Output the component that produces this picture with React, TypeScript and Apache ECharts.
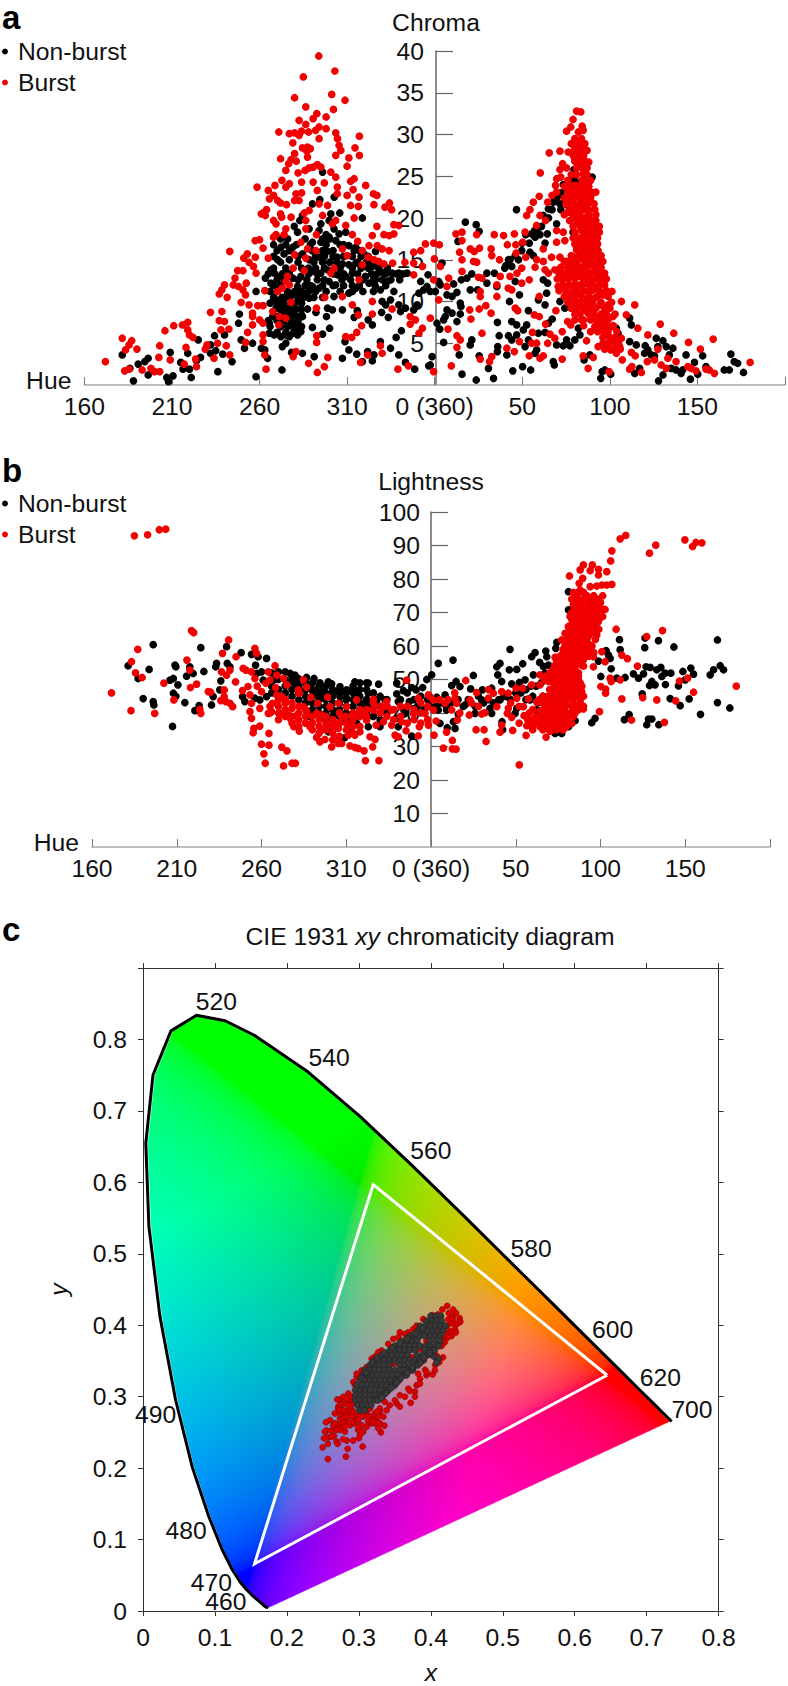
import React, { useEffect, useRef } from "react";
import * as echarts from "echarts";

const FONT = "Liberation Sans";

// Hue offset from 0 (360): negative values are hues 359..160, positive are 1..200
const hueTickValues = [-200, -150, -100, -50, 0, 50, 100, 150, 200];
const hueTickLabels = ["160", "210", "260", "310", "0 (360)", "50", "100", "150", ""];

const chromaBurst: number[][] = [
[-188,2.8],[-178.4,5.6],[-177,1.7],[-174.5,1.9],[-173,5.3],[-174.5,4.8],[-176.5,4.2],[-170,4.3],[-167,1.8],[-162,2],[-160,1.6],[-157,1.6],[-157.5,3.3],[-157,4.7],[-154,6.5],[-151,3],[-149,7.1],[-141,7.5],[-144,7.2],[-141,6.6],[-140,6],[-138,5.7],[-142,4.5],[-143,2.5],[-136,2.2],[-136.5,3.1],[-131,4.3],[-130,4.8],[-126,3.2],[-128,8.7],[-121.5,8.8],[-123,7.7],[-120,7.6],[-122,6.6],[-117.5,6.7],[-124,5],[-119,4.7],[-117,3.6],[-123,10.9],[-120,12],[-121.5,11.4],[-118.5,10.5],[-114,12.8],[-115,12],[-112,11.8],[-109.5,11.4],[-107.6,12.2],[-110.5,9.9],[-108,10.8],[-106,9.6],[-104,8.6],[-112.5,13.7],[-109.5,13.7],[-117,16],[-109,15.2],[-107,15.7],[-102.4,15.3],[-106,14.7],[-103.5,14.2],[-102,13.4],[-102.5,17.3],[-100,17.4],[-98,16.4],[-95,15.2],[-92,17.7],[-90.6,18],[-86,18],[-85,18.7],[-98,20.6],[-96,21],[-99,20.5],[-96.7,20.3],[-92,19.7],[-90.6,19.3],[-88,20.5],[-87.4,20.1],[-82,20.1],[-101.4,23.7],[-95,23.3],[-91.2,23.9],[-87.2,24.5],[-85,23.7],[-83,24.1],[-94.4,22.3],[-92,22.7],[-89.7,22.1],[-88,21.8],[-84.6,21.6],[-79.2,22.9],[-76,23],[-80,22.1],[-77.4,22.1],[-76,24.3],[-69.4,24.3],[-67,23.3],[-63,24.2],[-78,25.4],[-85,25.7],[-83.4,26.5],[-82,27],[-80,27.7],[-79,26.8],[-88,27.1],[-81,29],[-74,25.7],[-71.7,26],[-69.4,26.1],[-67,26.4],[-65,26.1],[-75.5,28.4],[-72.6,28.5],[-73,28],[-71,28.3],[-72.6,27.3],[-89,30.3],[-83,30.1],[-80,30.2],[-77.4,29.9],[-76,30.4],[-72,30.3],[-68,30.5],[-66,30.9],[-62,30.7],[-66,29.5],[-56.5,30.2],[-55.5,29.5],[-54.6,28.7],[-53.6,28.1],[-56.5,27.5],[-43,29.8],[-45.5,28.4],[-43,27.5],[-49,27.2],[-50,26.2],[-77.4,31.7],[-73.6,31.2],[-69.4,31.9],[-67.3,32.5],[-62,32.1],[-80,34.4],[-73.6,33.3],[-58.8,34.8],[-57.8,33],[-51.2,34.1],[-75,36.9],[-57,37.6],[-66.2,39.4],
[-59.3,25.5],[-56.5,24.9],[-55.6,23.7],[-55.6,22.9],[-46,24.7],[-48,24.4],[-46.6,23.4],[-39.4,23.9],[-50,22.7],[-43.2,22.5],[-48,21.5],[-43.6,21.4],[-46,20],[-35,22.9],[-33,22.7],[-34.7,21.6],[-28.4,21.3],[-25.8,21.8],[-24.6,21],[-33,19],[-23.3,19.2],[-20.5,19.1],[-35.6,17.9],[-29,18],[-26,17.9],[-23.3,18.1],[-32.8,16.7],[-30,16.3],[-26,16.1],[-37.5,16.7],[-38,15.3],[-34.7,15],[-32,14.8],[-29,14.5],[-24,14.6],[-17,14.7],[-12,14.6],[-5.3,16.9],[-8,16.1],[-12,15.9],[-7,14.2],[-12,13.2],[-47,18],[-44,17.2],[-52.7,16.3],[-49.9,15.5],[-41.3,16.1],[-41.3,14.4],[-50.8,19.1],[-56.5,19.7],[-58.4,19.3],[-61.2,21.5],[-66,21.7],[-71.7,20.9],[-74.5,20.6],[-73.6,19.7],[-64,20.3],[-73.6,18.7],[-76.4,17.1],[-67.5,18],[-72.6,16.3],[-67.8,16.1],[-80,15.6],[-73.6,15.2],[-57.5,14],[-59.3,13.4],[-74.5,13.7],[-80.8,14],[-84,13],[-85,12.4],[-87,11.6],[-89.7,11.2],[-83,12],[-97,11.3],[-43.2,12.6],[-62.8,10.5],[-52.7,10.6],[-35.6,10],[-35.6,8.5],[-47,9.6],[-67.5,9.2],[-43.6,8.4],[-24.3,9.1],[-14,8.2],[-11,7.8],[-14,7.3],[-7,6.8],[-9,6.2],[-82,9.9],[-98,9.5],[-101,9.5],[-92.5,8.8],[-104,8.2],[-100,7.8],[-98,7.4],[-104,7.2],[-88.7,8.2],[-85,8],[-89,7.2],[-106.8,6.3],[-98,6],[-108,5.1],[-97,3.6],[-98,5.2],[-67.4,5.9],[-67.4,5.1],[-50.8,5.8],[-47.4,5.7],[-44.5,6.3],[-41.7,7.1],[-31,4.7],[-30,3.8],[-38.3,3.6],[-42.3,2.7],[-79.2,4],[-80.8,3.4],[-72,2.6],[-61,3.3],[-63,2.2],[-67,1.5],[-96.3,1.9],[-21,1.9],[-15,2.3],
[-0.6,17],[2.7,16.8],[-0.2,15.1],[3.2,14.2],[12.1,18.1],[15.6,18.3],[15.6,17.3],[24,18],[14.2,15.9],[20.3,16.3],[25.6,16.4],[22.6,16],[15.6,15],[22.2,14.8],[24,14.7],[15.6,13.6],[25,12.9],[27,12.8],[34,18],[39.3,17.9],[45.5,18.1],[51.6,18.3],[41.5,16.8],[46.3,16.8],[32.2,16.3],[32.6,15.5],[37,15],[46.5,15.8],[50.3,17.1],[52,15.3],[-0.6,12.6],[8,12.8],[7,11.8],[2.3,10.2],[26,11.2],[26,10.6],[35.5,12],[35.5,10.6],[42,11.6],[44,11.4],[49.7,12.2],[37.4,13],[43,13],[47,13.4],[49.7,14],[54,12.6],[20,9],[25.4,9.1],[29.2,9.5],[32.2,8.6],[20.7,7.9],[46,9.2],[47.4,8.9],[-2.5,8],[7.6,6.7],[12.7,5.9],[14.6,5.4],[27,6.2],[12.7,4.5],[26,3.1],[32.6,3.4],[31.3,2.8],[9.5,2.3],[-0.6,1.6],[41.2,4.4],[45.5,4],[48.4,5.2],[54,3.5],[60.1,3.2],[62,3.5],[55.8,6.3],[56.9,8.4],[59.7,8.2],[63.3,7.3],[59.7,10.6],[69.2,8.9],[72.8,6.4],[65.8,6.1],[68.6,5.6],[64.5,5],[55.4,5],[58.2,5],[75.9,7.6],[77.7,7.2],[86.7,5.3],
[52.5,20.3],[54.4,21],[56.3,21.9],[59.7,22.6],[64.5,21.9],[60.1,20.3],[63.3,19.7],[58.2,19.1],[69.6,18.5],[73.4,18.3],[69.6,17.1],[74.3,17.3],[62,16.3],[66.7,15.3],[71.5,15.3],[75.3,14.8],[62,14.8],[58.2,15],[57.3,14.1],[63,13.8],[68.6,13.8],[72.4,13],[70.5,11.8],[64.9,13.4],[76.2,10.2],
[81,32.8],[83.4,32.7],[79,31.8],[84.2,31],[77.7,30.9],[75.3,30.4],[84.8,30.5],[82,30.3],[80,29.5],[83.8,29.5],[78,28.9],[81,28.7],[85.7,28.9],[87,28.1],[83,28.1],[79,27.9],[76.2,27.9],[71.5,28],[65.4,27.8],[80,27.1],[84.8,27.1],[82,26.5],[88,26.7],[85.7,26.1],[73,26.5],[71.5,25.8],[75.3,26],[60.3,25.4],[84.8,25.3],[69.6,24.7],[72,24.9],[69,23.9],[69.6,23.1],[67,22.7],[76.2,23.3],[80,23.9],[87.2,24.2],[90.5,23],[83.8,23.5],[80,22.5],[84.8,22.5],[87.6,22.3],[77.2,21.9],[82,21.7],[89.5,21.9],[79,21],[83.8,21],[91.4,21],[76.2,20.7],[81,20.1],[86.7,20.1],[89.5,19.7],[82,19.3],[85.7,19.3],[92.3,18.5],[89.5,18.5],[83.8,18.5],[81,17.7],[86.7,17.7],[91.4,17.5],[84.8,17],[81,16.6],[93.3,16.1],[87.6,16.3],[82.9,15.7],[91.4,15.3],[94.2,15],[80,15.3],[84.8,15],[89.5,14.5],[92.3,14],[82,14.2],[86.7,13.4],[94.2,13.4],[79,13],[82.9,13],[89.5,12.6],[95.2,12.4],[85.7,12.2],[80,12],[92.3,11.6],[74.3,11.8],[87.6,11.2],[82.9,11],[78.1,10.8],[96.1,10.8],[91.4,10.4],[85.7,10.2],[99,9.6],[94.2,9.6],[89.5,9.2],[83.8,9.4],[81,8.6],[86.7,8.8],[83.8,7.8],[97,8.4],[101.8,8.2],[93.3,8],[96.1,7.4],[91.4,7],[95.2,6.6],[100.9,7],[97.1,6],[100,5.2],[98,4.6],[102.8,5],[105.6,4.6],[100.5,4.2],[103.7,3.8],[106.6,5.6],[93.3,4.6],
[101.2,11.2],[106.6,10],[114.2,9.6],[109.4,8.4],[116,6.8],[128.8,7.3],[136.5,6.2],[121.7,6],[144.9,5.1],[159,5.5],[151.7,4.3],[127.4,4.3],[112.3,3.9],[114.5,3.5],[107.1,3],[112.6,2.2],[111.3,1.9],[118,1.5],[125.5,3],[121.4,2.8],[133.1,3.2],[129.3,2.4],[137.8,2.8],[132.2,2],[146.4,2],[149.2,1.7],[144.5,2.2],[154.9,1.9],[156.8,1.8],[159.7,1.4],[180.1,2.7],[99.6,1.6],[87.6,2],[90.5,3.3],[84.8,3.5],[72.8,3.1]
];
// Dense part of the right-hand burst peak, row by row: chroma, then hues
const chromaBurstRows: number[][] = [
[29,81,84],[28.3,80,83,85],[27.5,79,82,85],[26.8,80,83,86],[26,81,84,87],[25.2,78,81,87],[24.5,76,84,86,89],[23.8,74,78,82,85,88],[23.1,76,79,82,86,89,92],[22.4,74,77,83,86,89],[21.7,75,79,85,87,91],[21,77,81,86,88],[20.4,74,79,83,88,92],[19.7,77,81,84,87,92],[19,79,83,86,89,91,94],[18.3,80,85,88,91,94],[17.6,79,83,84,89,93],[16.9,80,83,87,90,93],[16.2,81,85,89,92],[15.5,78,83,87,90,95],[14.8,74,77,81,86,88,93,96],[14.1,72,76,79,84,87,91,95],[13.4,71,74,77,81,84,89,92,97],[12.7,70,73,76,80,85,87,92,95,98],[12,73,77,83,88,90,94,97],[11.3,71,75,79,81,85,90,94,98],[10.6,74,77,80,84,88,93,99],[9.9,76,80,82,87,90,95,101],[9.2,78,81,85,88,92,97,100],[8.5,80,83,88,91,95,98,103],[7.8,80,85,89,92,95,99],[7.1,85,93,98,102],[6.4,89,93,99,104],[5.7,96,100,103],[5,96,99,105],[4.3,97,102,104,106]
];

const chromaNonBurst: number[][] = [
[-172,0.5],[-178.4,3.6],[-174,2],[-169.3,2.5],[-165.5,2.8],[-163.6,3.2],[-163.6,1.2],[-153,0.9],[-149.4,1.1],[-152,0.4],[-151,3.9],[-145,2.7],[-143.7,1.9],[-140,1.9],[-139,0.9],[-141,3.8],[-136,2.9],[-133.7,3.3],[-123.8,1.6],[-121,3.7],[-115.7,2.8],[-125,4.1],[-128,3.8],[-128,4.8],[-125.7,5.9],[-120,6],[-135,5.4],[-102,1],[-110.5,5.4],[-108.6,4.4],[-104,5],[-99,4.4],[-97,4.2],[-95.4,3.2],[-87.2,1.8],[-111.5,8.5],[-112,7.4],[-102,11.2],[-96.7,12.8],[-93.5,13.8],[-91.6,13.4],[-89.7,15],[-87.8,16.5],[-85,16.8],[-81,16.5],[-86,15.7],[-83,15],[-94.4,6.2],[-91.6,6],[-87.8,5.8],[-85,6],[-81,6.2],[-78.3,6],[-76.4,6.4],[-77.4,7],[-79.2,7.4],[-83,5.8],[-85,5],[-87,4.6],[-94.4,7.4],[-92.5,8.2],[-90.6,9.2],[-87.8,9.4],[-86,8.8],[-83,9.2],[-81,8.6],[-78.3,8.2],[-75.5,8.2],[-91.6,10.2],[-88.7,10.2],[-85,10.6],[-81,10.8],[-77.4,11],[-73.6,10.6],[-71.7,10.4],[-75.5,3.8],[-81.7,3.9],[-68.8,3.4],[-69.8,6.9],[-64,6.1],[-60,6.8],[-52.7,3.2],[-51.2,5.2],[-49,4.2],[-44.5,3.7],[-41.3,2.8],[-38.3,4],[-34.7,3.6],[-35.6,2.9],[-31,5.2],[-25.2,4.4],[-20.5,3.6],[-22,5.7],[-19,6.5],[-16.7,2.7],[-11.4,1.9],[-3.4,2.3],[-72.6,9.1],[-67.8,8.7],[-61.2,9.2],[-61.8,8.2],[-58.4,9],[-52.7,9],[-46,8.1],[-44.2,8.9],[-38,7.8],[-35.6,7.2],[-30.3,8.7],[-26.5,8.1],[-30,10],[-28,9.6],[-25.2,10.2],[-19.5,8.8],[-20.5,9.6],[-16.7,9.2],[-12,9],[-10,9.6],[-9,11],[-6.3,11.4],[-4.4,11.8],
[-75.5,20.3],[-77,19.7],[-80.2,19],[-78.3,18.3],[-69.8,21.7],[-65.6,22.2],[-57.4,22.5],[-64,25.5],[-59.3,20.5],[-54.2,20.6],[-65,19.3],[-60.3,19.7],[-41.3,20],[-71.7,18.7],[-66,18.5],[-62,18],[-57.5,18.7],[-54.6,18.1],[-50.8,18.3],[-69.8,17.1],[-65,17.1],[-60.3,17.7],[-56.5,17.3],[-49,16.7],[-45.1,16.5],[-40.4,15.7],[-33.8,16],[-75.5,15.7],[-71.7,15],[-66,15.3],[-61.2,16],[-55.6,15.3],[-52.7,14.5],[-49,14.4],[-45,14.6],[-35.6,14.2],[-30,13.5],[-24.3,13.4],[-20.5,13.4],[-15.7,13.4],[-8,12.4],[-3.8,13.2],[-69.8,13.6],[-65,13.4],[-61.2,13.8],[-55.6,13.2],[-50.8,13],[-47,13.4],[-39.5,13],[-33.8,12.6],[-31,11.4],[-27,12.4],[-23.3,11.2],[-76.4,13],[-81,12.8],[-89.7,13],[-93.5,12.2],[-78.3,11.8],[-69.8,11.8],[-66,11.6],[-60.3,12.4],[-56.5,12],[-49,11],[-45,11.6],[-37.5,12.2],[-57.5,10.6],[-77.4,10.2],
[17.5,19.5],[23.7,19.2],[25.4,18.4],[13.3,17.2],[46.7,21],[4.2,14.6],[21.2,13.3],[18.4,12.8],[15.2,12.6],[29.8,13.4],[34.1,13.4],[29.8,12.2],[35.5,11.8],[20.3,11.4],[24.5,11.4],[10.8,12.1],[12.7,11.1],[-2.5,11.2],[0.4,11.2],[3.2,12],[7,10.8],[9.9,10.6],[2.3,12.4],[14.6,9.8],[15,9.4],[7,9],[9.9,8.6],[14.6,8.5],[6,8.2],[5.1,7.8],[12.7,7.6],[1.3,7.4],[2.9,6.7],[35.8,7.5],[42.7,10],[48.4,10.8],[5.1,5.1],[21.2,5.4],[20.3,4.8],[36.8,5.9],[36,4.6],[35.8,4],[41.2,3.6],[42.1,5.9],[14,3.6],[-1.5,3.4],[-2.5,2.4],[25.4,3.5],[15.6,1.3],[23.7,0.6],[30.7,2],[33.6,0.8],[44.6,1.7],[50.2,2.2],[54.8,1.8],[67.7,2.8],[68.3,2.4],[53.5,8.9],[44,7.6],[46.8,7.2],[52.5,7.2],[50.6,6.6],[46.8,6],[44,5.4],[53.5,5.4],[59.2,6.2],[63,6.3],[67.1,7.9],[64.9,7.4],[58.2,4.2],[57.3,3.8],[51.6,4.6],[73.4,4.7],[77.2,4.7],[80,5.4],[82.9,6],[82,6.8],[69.6,4.8],[75.3,5.4],[85.3,3],[88.6,3.6],[95.6,1.6],[97.1,1.8],[94.8,0.8],[100.5,1.3],[63.9,11],[59.2,10.2],[63,9.6],[71.5,10],[74.3,9.2],[78.1,9.2],[42.1,15],[40.6,14.3],[44,14.2],[47.8,15],[49.7,16.1],[54.4,15.9],[56.3,15.5],[55.4,18.1],[57.3,17.7],[60.1,18],[63,17],[64.3,18.1],[62,20.3],[64.9,21.1],[67.7,21.9],[71.5,21.7],[74.3,22.1],[73.4,24],[79.5,25.8],[79.5,24.7],[82.9,24.3],[89.9,24.9],[87.6,23.5],[69.6,19.3],[79,18.3],[62,12.6],[46,12.4],[64.5,12.2],
[103.7,6.8],[111.3,8],[112.3,7.2],[104.7,6.2],[111.3,5.2],[115.1,4.8],[120.2,4.7],[121.7,4.2],[119.8,3.8],[126.5,5.6],[130.3,5.3],[127.4,4.6],[132.2,4.6],[136,4.4],[134,3.6],[143.5,3.6],[153,3.5],[169.1,3.7],[148.3,2.7],[135,2],[137.8,1.8],[141.6,1.8],[140.7,1.4],[150.2,1.3],[154.9,2.2],[165.3,1.8],[168.2,1.8],[171,2.8],[173,2.6],[176.3,1.5],[146,0.7],[127.8,0.5],[130.3,1.2],[114.2,1.4],[117,2],[123.6,3.6],[125.5,3.5],
[40,14],[43,15],[46,15.5],[50,17],[52,18],[54,17],[57,18.5],[59,18.8],[61,19],[65,20],[67,21],[70,22.5],[72,23],[75,23.5],[77,24],[72,21],[76,21.5]
];
// Dense part of the left-hand non-burst cloud, row by row: chroma, then hues
const chromaNonBurstRows: number[][] = [
[17.5,-88,-84,-74,-64,-60],[16.8,-92,-79,-71,-62,-54,-52],[16.1,-90,-83,-70,-64,-58,-46,-43],[15.4,-92,-78,-68,-63,-58,-52,-47,-42,-38],[14.7,-88,-78,-69,-64,-60,-56,-44,-39,-36,-33],[14,-92,-85,-76,-72,-68,-63,-54,-47,-42,-38,-32,-27],[13.3,-95,-87,-83,-72,-67,-58,-52,-44,-36,-33,-28,-22,-18],[12.6,-90,-86,-78,-73,-67,-63,-53,-48,-41,-35,-30,-25,-20],[11.9,-92,-88,-74,-71,-64,-58,-52,-47,-43,-34,-28],[11.2,-94,-90,-84,-80,-76,-72,-68,-62,-54,-47,-41,-35],[10.5,-92,-87,-83,-78,-75,-69,-64],[9.8,-94,-90,-86,-80,-76],[9.1,-88,-84,-79,-76],[8.4,-92,-88,-83,-80,-76],[7.7,-95,-90,-86,-82,-78],[7,-94,-88,-84,-81,-76],[6.3,-90,-85,-80,-78]
];

const lightnessBurst: number[][] = [
[-175,92.9],[-167.2,93.2],[-160.3,94.7],[-156.5,94.9],
[-188.5,46],[-177,40.7],[-173,59],[-176.7,55.3],[-174.3,52],[-170.4,50.6],[-163,39.9],[-157.6,48.9],[-151.7,43.9],[-144,55.8],[-142.3,52.8],[-141.9,47.6],[-138.3,48.6],[-141.3,64.6],[-140,64],[-136.4,41.1],[-135.8,39.9],[-131.4,46.4],[-130,46.2],[-122,46.9],[-122,44.9],[-124,43.7],[-121,43.4],[-118.6,42.9],[-117,41.9],[-119.4,61.8],[-123,57.8],[-115,56.8],[-123.6,52.3],[-120.6,51.3],[-118.6,52.8],[-115.3,49.3],[-110.8,53.3],[-109.2,52.8],[-103.9,59.3],[-102.9,57.8],[-105.9,52.3],[-103.9,50.3],[-108,47.9],[-111.2,46.7],[-106.8,45.4],[-102.5,48],[-100,46.4],[-97.4,48.9],[-96,52.3],[-92,54.1],[-91,51.3],[-95,49.8],[-87,50.3],[-85,48.4],[-91.7,47.6],[-91,45.4],[-75.3,49.9],[-73.4,47.7],[-78.3,46.9],[-77.7,45.9],[-70.8,44.7],[-66.9,42.9],[-61,44.7],[-105.9,42.9],[-106.8,40.4],[-105.9,38.4],[-101,41.4],[-101,36.1],[-104.5,35.4],[-104.9,34.1],[-95.6,33.9],[-100,30.7],[-95.6,30.4],[-98.6,27.8],[-97.8,25],[-88,29.8],[-85,28.7],[-87,24.2],[-82,25],[-80,25],[-96,39.9],[-93.5,42.9],[-90,43.9],[-88,44.9],[-86,42.9],[-94,40.4],[-89,39.9],[-84,39.4],[-82,41.4],[-79,39.4],[-75.3,41.9],[-73.4,40.4],[-83,38.4],[-78.3,37.9],[-71.4,35.9],[-80.9,35.9],[-77.7,34.6],[-67.5,39.9],[-64.5,39.4],[-59.6,41.9],[-54.7,42.9],[-49.8,41.9],[-43.9,43.9],[-34,44.1],[-26.2,43.4],[-29.1,41.4],[-34,40.9],[-40,40.4],[-45.8,39.4],[-52.7,38.9],[-57.6,37.4],[-61.6,36.4],[-64.5,34.9],[-54.7,35.4],[-48.8,36.4],[-38,37.9],[-32.4,36.4],[-28.1,37.4],[-23.2,36.4],[-41.9,34.4],[-44.9,33.4],[-48.8,33.4],[-67.5,32.7],[-65.5,31.4],[-62.6,32.1],[-58.6,29.9],[-56.7,32.9],[-54.7,30.9],[-52.7,30.9],[-47.8,30.2],[-44.9,29.7],[-42.9,29.4],[-39.5,28.7],[-36,32.9],[-33,32.1],[-34.4,29.9],[-38.7,25.8],[-30.7,25.8],[-21.2,33.4],[-19.3,32.9],[-14.7,34.7],[-7.5,33.2],[-6.9,35.9],[-17.3,37.4],[-7.5,44.4],[-14.3,49.8],[-10.4,39.9],[-3.5,39.9],[-1.5,45.4],[-1.5,36.4],[-23.2,40.9],
[114.9,93],[111.6,92],[106.7,88.4],[106,85.4],[103.7,82.2],[106.7,78.4],[103.7,78.2],[100.8,78.2],[97.8,77.9],[93.9,77.7],[95.2,84.2],[98.8,82.9],[98.8,81.2],[93.9,82.5],[89.9,84.2],[88,82.7],[81.7,80.9],[89.5,80.2],[87.4,78.7],[88,76.7],[101.3,75],[102.7,70.9],[101.3,68.8],[85,74.7],[88,73.7],[92.9,73.7],[97.8,72.8],[84,72.3],[90.9,71.8],[99.8,71.3],[87,70.3],[95.8,69.3],[82,68.8],[89.9,68.3],[98.8,67.3],[85,66.3],[93.9,66.3],[81,65.8],[88,64.3],[97.8,63.3],[79.1,63.8],[77.1,61.8],[83,62.8],[90.9,62.3],[86,60.8],[93.9,60.3],[80.1,59.8],[90.9,58.8],[100.8,58.3],[83,57.8],[73.2,56.6],[78.1,56.8],[95.8,56.8],[87,56.3],[102.7,55.3],[79.1,54.3],[88.9,54.3],[95.8,53.8],[75.2,52.4],[83,52.8],[71.2,51.4],[87,50.9],[74.2,49.9],[69.3,49.4],[64.3,51.4],[80.1,48.9],[86,48.4],[59.4,48.4],[64.3,48.4],[75.2,47.4],[82,46.9],[88.9,46.4],[50.2,47.4],[54.1,47.4],[68.3,44.9],[75.2,43.9],[84,44.4],[41.7,46.4],[45.6,45.9],[50.6,44.4],[57.5,44.2],[62.4,43.2],[80.1,42.4],[86,41.9],[71.2,41.9],[89.9,41.2],[54.5,41.9],[45.6,41.4],[64.4,40.7],[75.2,40.4],[82,39.9],[54.9,39.2],[47.6,38.7],[67.3,38.9],[78.1,38.4],[60.4,37.9],[71.2,37.4],[83,36.9],[56.5,36.2],[64.3,35.9],[72.2,35.9],[68.3,35.4],[77.5,35.1],[70.3,34.6],[48.2,34.8],[40.7,34.3],[41.7,36.4],[56.1,33.3],[67.9,32.8],[32.5,31.5],[26.6,35],[31.3,35],[52.1,24.5],[7.3,29.5],[12.6,31.8],[12.6,29.3],[14.8,29.2],[1.8,33.4],[9.2,34.3],[3,37.6],[15.5,37.9],[22.6,39.4],[29.9,39.7],[31.9,40.1],[1.4,40.9],[8.3,42.9],[14.2,44.4],[12.2,40.9],[15.1,42.9],[24,42.9],[26.9,46.1],[20.5,49.7],[33.8,44.4],[36.8,45.9],[38.8,41.9],[45,39.9],[-0.6,44.9],[1.4,43.9],[23,43.9],
[109.2,65],[136.6,64.6],[127.3,62.8],[112.6,57.3],[115.9,56.2],[121.8,54],[105.7,50.4],[106.3,49.4],[100.2,47.9],[103.1,47.1],[103,45.9],[111.6,49.9],[112.6,44.2],[124.9,44.6],[133.2,43.9],[144.4,43.6],[146.6,49.5],[151.4,50.4],[154.9,46.2],[99.4,40.4],[118.3,37.9],[137.7,37.2],[180.1,48],[128.9,87.7],[132.6,90.1],[149.8,91.7],[154.3,89.7],[156.3,90.9],[159.8,90.8],
[5,44],[10,44],[14,46],[17,40],[28,42],[34,47],[47,43],[52,42],[58,40],[52,37],[57,38]
];
// Dense red spire (right): lightness, then hues
const lightnessBurstRows: number[][] = [
[76,84,87,90],[75,86,92,96],[74,83,90,94,98],[73,86,88,95,100],[72,87,93,97],[71,85,89,92,96,101],[70,83,90,94,98],[69,85,88,92,96],[68,83,87,91,95,99],[67,84,88,92,96],[66,82,87,90,97],[65,83,85,91,94,99],[64,81,85,90,92,96],[63,81,86,88,93],[62,80,85,88,92,97],[61,80,83,89,91],[60,79,83,85,88,91,95],[59,78,81,84,87,93],[58,78,80,85,88,96],[57,76,81,83,90,93],[56,75,78,80,85,90],[55,74,77,81,83,86],[54,73,76,81,85,90],[53,72,75,78,80,85],[52,70,73,77,80,87],[51,68,72,75,78,82,85],[50,67,71,77,79,83,87],[49,72,75,78,83,88],[48,73,76,79,84,89],[47,70,74,78,85],[46,72,76,80,84,87],[45,66,70,74,78,82,86,90],[44,64,72,76,80,88],[43,66,70,74,78,84,88],[42,68,73,76,79,83,90],[41,60,67,72,78,84,87],[40,66,70,73,78,80,85],[39,62,65,70,74,81,84],[38,60,64,69,73,76,80],[37,58,62,66,74,78],[36,60,67,70,75,80],[35,60,66,71,74,78]
];
// Dense red band (left): hue, then lightnesses
const lightnessBurstBand: number[][] = [
[-95,42,40],[-90,42,40,38],[-86,44,41,39],[-82,43,39,37],[-78,42,40,38,36],[-74,41,39,37],[-70,39,37,35],[-66,38,36,34],[-62,39,37,35],[-58,38,36,34,32],[-54,40,37,33],[-50,39,37,35],[-46,40,38,36,34],[-42,41,39,36],[-38,41,39],[-34,43,41],[-30,42,40],[-26,42,39],[-22,41,38],[-18,42,39],[-14,42,37],[-10,41,38],[-6,43,40,37],[-2,42,38]
];

const lightnessNonBurst: number[][] = [
[-178.7,54.1],[-163.9,60.4],[-166.3,53],[-172.8,50.3],[-169.8,44.3],[-163.9,43.4],[-163.5,42.4],[-152.5,36],[-151,54.3],[-150.5,53.8],[-154,49.8],[-152,50.3],[-149.3,48.4],[-152,45.9],[-150.5,45],[-145.2,43.1],[-144.2,51],[-142.3,53.8],[-140.3,51.8],[-134,52.4],[-135.8,59.5],[-139.3,40.7],[-136.8,42.2],[-129.5,42.4],[-128.5,44.9],[-126.5,54.8],[-127,53.8],[-120.6,59.8],[-120.2,54.8],[-118.6,53.8],[-124,49.6],[-124.6,46.9],[-112,58],[-105.9,57.5],[-102,56.8],[-97,56.3],[-103.5,54.3],[-111.2,44.9],[-109.8,43.4],[-103.9,44.4],[-101,43.9],[-102.9,51.8],[-100,52.3],[-99,49.8],[-97,44.9],[-93,49.8],[-90,52.3],[-86,52.3],[-83,51.8],[-80.3,51.3],[-78.3,50.3],[-73.4,50.6],[-69,50.3],[-65.5,49],[-60.6,49.3],[-58.6,48.7],[-82,49.3],[-79.3,48.4],[-73.4,47.9],[-70.4,46.9],[-66.5,47.3],[-63.5,46.4],[-67.5,45.4],[-63.5,44.4],[-59.6,45.4],[-56.7,46.4],[-53.7,47.9],[-49.8,46.9],[-44.9,49.3],[-41.9,49],[-38,49],[-37,48.9],[-30.9,48.6],[-45.8,47.3],[-43.9,45.9],[-37,45.9],[-53.7,44.9],[-49.8,44.4],[-40,42.9],[-36,42.4],[-32,43.9],[-27.1,43.9],[-20.2,48.9],[-16.3,46.7],[-11.4,47.6],[-8.8,46.9],[-4.9,47.6],[-2.5,50],[-20.2,45.7],[-19.3,43.4],[-12.8,43.4],[-15.3,39.9],[-20.2,38.4],[-19.3,35.9],[-37,35.9],[-30.1,35.9],[-11.4,33.1],[-51,32.6],[-60.6,34.4],[-47.8,34.9],[-43.9,36.9],[-71.4,38.9],[-55.7,39.4],
[81.1,76.2],[81.1,70.8],[87,68.3],[74.2,61.1],[73.6,59.3],[67.7,58.5],[68.3,56.8],[61.4,58],[59.4,56.8],[46.6,59],[64.1,55.1],[54.1,54.7],[40.7,54.8],[38.8,53.8],[46.2,52.9],[50.6,53],[39.4,51.4],[4.3,54.8],[13,55.8],[0.4,51.4],[25,51.2],[14.8,49.4],[12.2,48.2],[17.1,47.9],[23.4,47.2],[30.3,46.9],[35.8,47.4],[41.7,49.4],[47.6,48.7],[52.1,49.1],[55.5,49.9],[60.4,51.4],[66.3,53.9],[69.3,54.3],[74.2,55.3],[67.3,51.9],[3.4,44.7],[8.3,45.4],[-0.6,41.9],[4.3,40.9],[9.2,40.9],[16.1,39.6],[20.1,42.4],[26,39.9],[29.9,43.9],[35.8,39.9],[34.8,41.4],[40.7,43.9],[44.7,44.9],[50.6,41.4],[49.6,39.9],[62.4,40.9],[58.4,43.9],[66.3,42.9],[69.3,43.9],[73.2,46.1],[78.1,39.9],[85,37.7],[77.1,33.9],[81.1,35.9],[41.9,37.4],[42.3,35],[14.2,35.4],[9.6,35.6],[13.2,37.4],[5.3,36.9],[94.8,37.1],[96.8,38.4],[73.2,33.9],
[103.3,58.6],[104.7,57.3],[105.7,56.3],[98.8,55.5],[106.3,53.2],[100.2,50.9],[111.2,61.9],[111.6,58.9],[126.3,62.4],[126.1,59.5],[134.2,61.6],[143.3,59.7],[169,61.8],[109.6,50.4],[114.5,50.6],[119.4,51.7],[122.4,50.4],[125.4,51.7],[126.9,53.8],[129.3,53.6],[133.2,52.9],[135.6,53.6],[138.1,51.9],[136.2,50.9],[141.5,51.9],[148.6,52.4],[153.3,53.4],[154.9,51.6],[150,49.9],[146,48.1],[130.3,49.4],[128.9,48.2],[132.2,48.4],[138.3,48.5],[164.7,51.4],[166.7,52.9],[170.6,54.1],[172.6,52.9],[124.6,45.7],[141.1,44.3],[147,42.2],[152.3,44.2],[169,43.1],[176.3,41.5],[159,39.6],[116.9,39.5],[114.1,38],[127.3,36.5],[128.3,38.2],[130.3,38.2],[134.4,36.5],
[0,44],[3,42],[6,43],[9,42],[12,43],[16,44],[19,42],[22,44],[26,42],[28,45],[31,43],[34,44],[37,43],[40,44],[43,45],[47,44],[50,46],[53,46],[56,47],[59,48],[62,48],[65,49],[68,50],[71,51],[73,52],[60,45],[56,44],[66,45],[70,45],[63,43],[68,42],[73,42],[76,41],[80,40],[-18,44],[-14,46],[-10,44],[-6,45],[-2,44],[-16,41],[-8,42],[-4,41]
];
// Dense black band (left): hue, then lightnesses
const lightnessNonBurstBand: number[][] = [
[-94,52,48,46],[-90,50,47,45],[-86,50,48,46,44],[-82,51,47,45],[-78,50,48,46,44],[-74,49,47,45,43],[-70,49,47,45,43,41],[-66,48,46,44,42,40],[-62,48,46,44,42,40,38],[-58,47,45,43,41,39],[-54,47,46,43,41,39,37],[-50,46,44,42,40,38],[-46,48,46,44,42,40,38],[-42,47,45,43,41,39],[-38,47,44,42,40,38],[-34,46,43,41,39],[-30,45,42,40,38],[-26,44,42,40]
];

const xyBurst: number[][] = [
[0.4228,0.427],[0.416,0.422],[0.431,0.422],[0.44,0.41],[0.435,0.417],[0.425,0.417],[0.43,0.412],[0.41,0.415],[0.402,0.414],[0.441,0.405],
[0.403,0.408],[0.424,0.408],[0.431,0.408],[0.4395,0.404],[0.436,0.4015],[0.429,0.4025],[0.422,0.399],[0.4335,0.3945],[0.4265,0.392],[0.435,0.39],[0.422,0.388],[0.429,0.385],[0.417,0.381],[0.424,0.383],[0.4195,0.376],[0.415,0.371],[0.417,0.355],[0.408,0.3575],[0.4118,0.3483],[0.406,0.344],[0.4025,0.331],[0.392,0.3377],[0.394,0.33],[0.385,0.325],[0.3826,0.332],[0.378,0.307],[0.371,0.308],[0.3687,0.311],[0.364,0.3],[0.372,0.2913],[0.357,0.286],[0.3525,0.2904],[0.343,0.288],[0.336,0.2927],[0.3386,0.281],[0.334,0.272],[0.3354,0.2594],[0.327,0.2557],[0.3307,0.25],[0.3247,0.27],[0.32,0.272],[0.3224,0.2626],[0.313,0.265],[0.311,0.258],[0.304,0.26],[0.306,0.251],[0.3016,0.2464],[0.3053,0.2302],[0.3,0.2418],[0.292,0.2386],[0.2844,0.227],[0.282,0.216],[0.283,0.2386],[0.278,0.2404],[0.269,0.237],[0.2705,0.234],[0.257,0.234],[0.2497,0.229],[0.257,0.2126],[0.2516,0.2418],[0.2576,0.243],[0.2654,0.245],[0.262,0.2525],[0.255,0.2525],[0.2645,0.259],[0.26,0.267],[0.2543,0.264],[0.269,0.2617],[0.2738,0.26],[0.2784,0.258],[0.2807,0.251],[0.2877,0.26],[0.2807,0.267],[0.2738,0.2696],[0.2668,0.2765],[0.2715,0.286],[0.2738,0.296],[0.27,0.296],[0.2784,0.2997],[0.2854,0.3043],[0.2877,0.295],[0.2807,0.2904],[0.29,0.2812],[0.2946,0.2742],[0.2854,0.2742],[0.3016,0.2742],[0.311,0.2765],[0.3224,0.2765],[0.3293,0.279],[0.3154,0.2835],[0.306,0.3275],[0.297,0.3275],[0.2923,0.3205],[0.2946,0.316],[0.3108,0.3413],[0.3224,0.3562],[0.3317,0.3645],[0.3479,0.3807],[0.357,0.39],[0.3687,0.39],[0.3756,0.3946],[0.3895,0.4085],[0.385,0.367],[0.3733,0.3552],[0.3488,0.346],[0.3594,0.339],[0.394,0.3784],
[0.2877,0.286],[0.285,0.281],[0.2807,0.279],[0.278,0.272],[0.292,0.279],[0.2738,0.2765],[0.2715,0.2835],[0.297,0.267],[0.2923,0.2626],[0.299,0.2535],[0.3154,0.272],[0.3177,0.2626],[0.3293,0.2626],
[0.276,0.2904],[0.283,0.2974],[0.29,0.2997],[0.2923,0.2904],[0.2854,0.288],[0.2784,0.2812],[0.2747,0.2895],[0.2729,0.2812],[0.283,0.272],[0.29,0.272],[0.2923,0.265],[0.2854,0.2636],[0.2784,0.2636],[0.2738,0.2534],[0.269,0.2534],[0.2807,0.258],[0.2992,0.2673],[0.3062,0.272],[0.3131,0.272],[0.3201,0.2649],[0.327,0.272],[0.2992,0.258],[0.2668,0.2626],[0.2622,0.2441],[0.2529,0.2511],
[0.297,0.332],[0.3039,0.3367],[0.3178,0.353],[0.327,0.3622],[0.3409,0.3738],[0.3548,0.383],[0.364,0.3876],[0.3803,0.3992],[0.3803,0.3159],[0.3849,0.3182],[0.3942,0.3344],[0.4057,0.3367],[0.378,0.3],[0.3571,0.302],[0.3502,0.295],[0.3293,0.2835],[0.3247,0.2788]
];

const xyNonBurst: number[][] = [
[0.4,0.413],[0.407,0.413],[0.414,0.413],
[0.394,0.406],[0.401,0.406],[0.408,0.406],[0.415,0.406],
[0.385,0.399],[0.392,0.399],[0.399,0.399],[0.406,0.399],[0.413,0.399],[0.42,0.399],
[0.382,0.392],[0.389,0.392],[0.396,0.392],[0.403,0.392],[0.41,0.392],[0.417,0.392],
[0.371,0.385],[0.378,0.385],[0.385,0.385],[0.392,0.385],[0.399,0.385],[0.406,0.385],[0.413,0.385],
[0.36,0.378],[0.367,0.378],[0.374,0.378],[0.381,0.378],[0.399,0.378],[0.406,0.378],[0.413,0.378],
[0.35,0.371],[0.357,0.371],[0.364,0.371],[0.371,0.371],[0.378,0.371],[0.385,0.371],[0.392,0.371],[0.399,0.371],[0.406,0.371],[0.411,0.371],
[0.343,0.365],[0.35,0.365],[0.357,0.365],[0.364,0.365],[0.371,0.365],[0.378,0.365],[0.392,0.365],[0.399,0.365],[0.405,0.365],
[0.332,0.358],[0.339,0.358],[0.346,0.358],[0.353,0.358],[0.36,0.358],[0.367,0.358],[0.381,0.358],[0.388,0.358],[0.395,0.358],[0.402,0.358],
[0.322,0.351],[0.329,0.351],[0.336,0.351],[0.343,0.351],[0.35,0.351],[0.357,0.351],[0.364,0.351],[0.371,0.351],[0.378,0.351],[0.385,0.351],[0.39,0.351],
[0.315,0.344],[0.322,0.344],[0.329,0.344],[0.336,0.344],[0.343,0.344],[0.357,0.344],[0.364,0.344],[0.371,0.344],[0.378,0.344],[0.382,0.344],
[0.308,0.337],[0.315,0.337],[0.322,0.337],[0.329,0.337],[0.336,0.337],[0.343,0.337],[0.35,0.337],[0.357,0.337],[0.364,0.337],[0.371,0.337],[0.375,0.337],
[0.305,0.33],[0.312,0.33],[0.319,0.33],[0.326,0.33],[0.333,0.33],[0.34,0.33],[0.347,0.33],[0.354,0.33],[0.361,0.33],[0.366,0.33],
[0.302,0.323],[0.309,0.323],[0.316,0.323],[0.323,0.323],[0.33,0.323],[0.337,0.323],[0.344,0.323],[0.351,0.323],[0.356,0.323],
[0.297,0.316],[0.304,0.316],[0.311,0.316],[0.318,0.316],[0.325,0.316],[0.332,0.316],[0.339,0.316],[0.346,0.316],[0.35,0.316],
[0.295,0.309],[0.302,0.309],[0.309,0.309],[0.316,0.309],[0.323,0.309],[0.33,0.309],[0.337,0.309],[0.341,0.309],
[0.295,0.302],[0.302,0.302],[0.309,0.302],[0.316,0.302],[0.323,0.302],[0.33,0.302],[0.334,0.302],
[0.295,0.295],[0.302,0.295],[0.309,0.295],[0.316,0.295],[0.323,0.295],[0.327,0.295],
[0.298,0.288],[0.305,0.288],[0.312,0.288],[0.317,0.288],
[0.301,0.281],[0.308,0.281],
[0.4057,0.3552],[0.4104,0.3529],[0.408,0.3474],
[0.3985,0.3615],[0.3905,0.3545],[0.3855,0.3475],[0.3745,0.3405],[0.3675,0.3335],[0.3585,0.3265],[0.3525,0.3195],[0.3455,0.3125],[0.338,0.3055],[0.3315,0.2985],[0.3035,0.3265],[0.3105,0.3335],[0.3185,0.3475],[0.3255,0.3545],[0.3355,0.3615],[0.3465,0.3685],[0.3565,0.3745],[0.3675,0.3815],[0.3785,0.3885],[0.3885,0.3955]
];

// Spectral locus, from 400 nm (bottom) round to 700 nm
const locus: number[][] = [
[0.1738,0.0049],[0.1733,0.0048],[0.1714,0.0051],[0.1689,0.0069],[0.1644,0.0109],[0.1611,0.0138],[0.1566,0.0177],[0.151,0.0227],[0.144,0.0297],[0.1355,0.0399],[0.1241,0.0578],[0.1096,0.0868],[0.0913,0.1327],[0.0687,0.2007],[0.0454,0.295],[0.0235,0.4127],[0.0082,0.5384],[0.0039,0.6548],[0.0139,0.7502],[0.0389,0.812],[0.0743,0.8338],[0.1142,0.8262],[0.1547,0.8059],[0.2296,0.7543],[0.3016,0.6923],[0.3731,0.6245],[0.4441,0.5547],[0.5125,0.4866],[0.5752,0.4242],[0.627,0.3725],[0.6658,0.334],[0.6915,0.3083],[0.7079,0.292],[0.719,0.2809],[0.726,0.274],[0.7347,0.2653]
];
const gamutTriangle: number[][] = [[0.645,0.33],[0.32,0.597],[0.155,0.066],[0.645,0.33]];

const wavelengthNames = ["520", "540", "560", "580", "600", "620", "700", "490", "480", "470", "460"];
const wavelengthPoints: number[][] = [[0.102,0.853],[0.2586,0.775],[0.4,0.644],[0.5395,0.507],[0.6527,0.394],[0.719,0.3266],[0.763,0.2827],[0.0175,0.2744],[0.06,0.1128],[0.095,0.0397],[0.1153,0.0132]];

const diagramRange = [0, 0.9, 0.8, 0];
const LEGEND = ["Non-burst", "Burst"];

// [y, x, x, ...] rows to [x, y] points
const fromRows = (rows: number[][]) => rows.flatMap(([y, ...xs]) => xs.map((x) => [x, y]));
// [x, y, y, ...] columns to [x, y] points
const fromColumns = (cols: number[][]) => cols.flatMap(([x, ...ys]) => ys.map((y) => [x, y]));

function srgb(v: number) {
  const c = Math.min(1, Math.max(0, v));
  return c <= 0.0031308 ? 12.92 * c : 1.055 * Math.pow(c, 1 / 2.4) - 0.055;
}

function chromaticityImage() {
  const w = 720, h = 810;
  const source = document.createElement("canvas");
  source.width = w; source.height = h;
  const sctx = source.getContext("2d")!;
  const img = sctx.createImageData(w, h);
  for (let j = 0; j < h; j++) {
    const y = 0.9 * (1 - (j + 0.5) / h);
    for (let i = 0; i < w; i++) {
      const x = 0.8 * (i + 0.5) / w;
      const z = 1 - x - y;
      const r = 3.2406 * x - 1.5372 * y - 0.4986 * z;
      const g = -0.9689 * x + 1.8758 * y + 0.0415 * z;
      const b = 0.0557 * x - 0.204 * y + 1.057 * z;
      const k = (j * w + i) * 4;
      img.data[k] = 255 * srgb(r);
      img.data[k + 1] = 255 * srgb(g);
      img.data[k + 2] = 255 * srgb(b * 1.25);
      img.data[k + 3] = 255;
    }
  }
  sctx.putImageData(img, 0, 0);
  const out = document.createElement("canvas");
  out.width = w; out.height = h;
  const ctx = out.getContext("2d")!;
  ctx.beginPath();
  locus.forEach(([x, y], i) => {
    const px = (x / 0.8) * w, py = (1 - y / 0.9) * h;
    if (i) ctx.lineTo(px, py); else ctx.moveTo(px, py);
  });
  ctx.closePath();
  ctx.clip();
  ctx.drawImage(source, 0, 0);
  return out.toDataURL("image/png");
}

const txt = { color: "#111", fontFamily: FONT, fontSize: 24.7 };

function hueAxis(gridIndex: number, tickLen: number, margin: number) {
  return {
    type: "value", gridIndex, min: -200, max: 200, interval: 50,
    name: "Hue", nameLocation: "start", nameGap: 13,
    nameTextStyle: { ...txt, verticalAlign: "bottom", lineHeight: 9 },
    axisLine: { onZero: false, lineStyle: { color: "#aaa", width: 1.5 } },
    axisTick: { inside: true, length: tickLen, lineStyle: { color: "#777", width: 1 } },
    axisLabel: { ...txt, margin, showMaxLabel: true, showMinLabel: true,
      formatter: (v: number) => hueTickLabels[hueTickValues.indexOf(v)] ?? "" },
    splitLine: { show: false },
  };
}

function valueAxis(gridIndex: number, name: string, max: number, interval: number, shift: number, margin: number, nameGap: number) {
  return {
    type: "value", gridIndex, min: 0, max, interval, position: "left", offset: -shift,
    name, nameLocation: "end", nameGap,
    nameTextStyle: { ...txt, align: "center" },
    axisLine: { show: true, onZero: false, lineStyle: { color: "#666", width: 1.5 } },
    axisTick: { show: true, inside: true, length: 17, lineStyle: { color: "#666", width: 1.2 } },
    axisLabel: { ...txt, margin, showMinLabel: false },
    splitLine: { show: false },
  };
}

function plainAxis(type: string, gridIndex: number, position: string, max: number, labelled: boolean, extra: object = {}) {
  return {
    type: "value", gridIndex, position, min: 0, max, interval: 0.1,
    axisLine: { show: true, onZero: false, lineStyle: { color: "#333", width: 1 } },
    axisTick: { show: true, length: 5, lineStyle: { color: "#333", width: 1 } },
    axisLabel: labelled
      ? { ...txt, margin: type === "x" ? 14 : 16,
          formatter: (v: number) => (v >= 0.85 && type === "y" ? "" : v === 0 ? "0" : v.toFixed(1)) }
      : { show: false },
    splitLine: { show: false },
    ...extra,
  };
}

function dots(name: string, data: number[][], color: string, idx: number, z: number) {
  return { type: "scatter", name, data, xAxisIndex: idx, yAxisIndex: idx, symbolSize: 7.7, z,
    itemStyle: { color, opacity: 1 }, silent: true };
}

function legendFor(top: number) {
  return { left: 2, top, orient: "vertical", data: LEGEND, icon: "circle", itemWidth: 6, itemHeight: 6,
    itemGap: 4, selectedMode: false, padding: 0,
    textStyle: { ...txt, padding: [0, 0, 0, 5], lineHeight: 27 } };
}

const RED = "#f00000";

export default function App() {
  const ref = useRef<HTMLDivElement>(null);
  useEffect(() => {
    const chart = echarts.init(ref.current!, undefined, { renderer: "svg" });
    const diagram = chromaticityImage();
    const letter = (text: string, top: number) => ({ text, left: 2, top, padding: 0,
      textStyle: { color: "#000", fontFamily: FONT, fontSize: 33, fontWeight: "bold" } });
    chart.setOption({
      animation: false,
      backgroundColor: "#fff",
      title: [
        letter("a", 1), letter("b", 454), letter("c", 913),
        { text: "CIE 1931 {i|xy} chromaticity diagram", left: 430, top: 924, textAlign: "center", padding: 0,
          textStyle: { ...txt, fontWeight: "normal", rich: { i: { ...txt, fontStyle: "italic" } } } },
      ],
      legend: [legendFor(38), legendFor(490)],
      grid: [
        { left: 84.4, top: 51, width: 702.8, height: 334 },
        { left: 92, top: 512, width: 678, height: 335 },
        { left: 143, top: 968, width: 575.6, height: 647.8 },
      ],
      xAxis: [
        hueAxis(0, 8, 9),
        hueAxis(1, 8, 9),
        plainAxis("x", 2, "bottom", 0.8, true, { name: "x", nameLocation: "middle", nameGap: 49,
          nameTextStyle: { ...txt, fontStyle: "italic" } }),
        plainAxis("x", 2, "top", 0.8, false),
      ],
      yAxis: [
        valueAxis(0, "Chroma", 40, 5, 351.6, 12, 16),
        valueAxis(1, "Lightness", 100, 10, 339, 11, 18),
        plainAxis("y", 2, "left", 0.9, true, { name: "y", nameLocation: "middle", nameGap: 72, nameRotate: 90,
          nameTextStyle: { ...txt, fontStyle: "italic" } }),
        plainAxis("y", 2, "right", 0.9, false),
      ],
      series: [
        dots("Non-burst", [...chromaNonBurst, ...fromRows(chromaNonBurstRows)], "#000", 0, 2),
        dots("Burst", [...chromaBurst, ...fromRows(chromaBurstRows)], RED, 0, 3),
        dots("Non-burst", [...lightnessNonBurst, ...fromColumns(lightnessNonBurstBand)], "#000", 1, 2),
        dots("Burst", [...lightnessBurst, ...fromRows(lightnessBurstRows), ...fromColumns(lightnessBurstBand)], RED, 1, 3),
        {
          type: "custom", name: "xy plane", xAxisIndex: 2, yAxisIndex: 2, data: [diagramRange], silent: true, z: 1,
          encode: { x: [0, 2], y: [1, 3] }, clip: false,
          renderItem: (_p: unknown, api: any) => {
            const a = api.coord([api.value(0), api.value(1)]);
            const b = api.coord([api.value(2), api.value(3)]);
            return { type: "image", style: { image: diagram, x: a[0], y: a[1], width: b[0] - a[0], height: b[1] - a[1] } };
          },
        },
        { type: "line", name: "locus", data: locus, xAxisIndex: 2, yAxisIndex: 2, showSymbol: false, silent: true, z: 3,
          lineStyle: { color: "#000", width: 3, join: "round" } },
        { type: "line", name: "gamut", data: gamutTriangle, xAxisIndex: 2, yAxisIndex: 2, showSymbol: false, silent: true, z: 3,
          lineStyle: { color: "#fff", width: 3, join: "miter" } },
        { type: "scatter", name: "xy burst", data: xyBurst, xAxisIndex: 2, yAxisIndex: 2, symbolSize: 6, silent: true, z: 4,
          itemStyle: { color: "#d90000", borderColor: "#8c0000", borderWidth: 0.6, opacity: 1 } },
        { type: "scatter", name: "xy non-burst", data: xyNonBurst, xAxisIndex: 2, yAxisIndex: 2, symbolSize: 6.4, silent: true, z: 5,
          itemStyle: { color: "#383838", borderColor: "#1c1c1c", borderWidth: 0.6, opacity: 1 } },
        { type: "scatter", name: "wavelengths", xAxisIndex: 2, yAxisIndex: 2, symbolSize: 1, silent: true, z: 6,
          data: wavelengthPoints.map((value, i) => ({ name: wavelengthNames[i], value })),
          itemStyle: { color: "transparent", opacity: 1 },
          label: { show: true, position: "inside", formatter: "{b}", ...txt, lineHeight: 18 } },
      ],
    });
    return () => chart.dispose();
  }, []);
  return <div ref={ref} style={{ position: "absolute", left: 0, top: 0, width: 788, height: 1686, overflow: "hidden" }} />;
}
